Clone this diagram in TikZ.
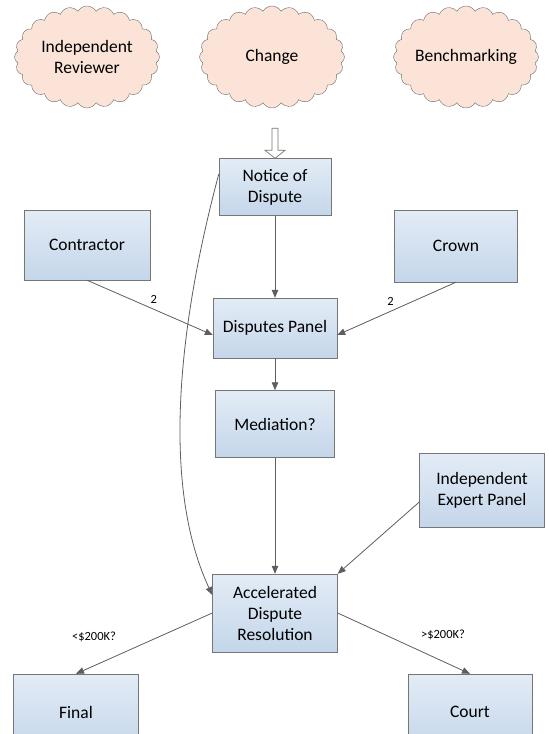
\documentclass[tikz,border=0pt]{standalone}
\usepackage{fontspec}
\setmainfont{Carlito}
\usetikzlibrary{shapes.symbols,arrows.meta}

\definecolor{boxtop}{HTML}{E3ECF6}
\definecolor{boxbottom}{HTML}{C4D6EA}
\definecolor{boxline}{HTML}{767676}
\definecolor{cloudfill}{HTML}{FBE4D7}
\definecolor{cloudline}{HTML}{6A6A6A}
\definecolor{linkgray}{HTML}{5E5E5E}

\tikzset{
  box node/.style={draw=boxline, top color=boxtop, bottom color=boxbottom,
    align=center, inner sep=2pt, font=\fontsize{17.5}{21}\selectfont},
  cloud node/.style={cloud, cloud puffs=24, cloud puff arc=120, cloud ignores aspect,
    minimum width=145pt, minimum height=102pt, inner sep=0pt, draw=cloudline,
    fill=cloudfill, align=center, font=\fontsize{17.5}{21}\selectfont},
  link/.style={draw=linkgray, line width=0.8pt, -{Triangle[length=8pt,width=6.5pt]}},
  tag/.style={font=\fontsize{12.5}{15}\selectfont, inner sep=1pt},
}

\begin{document}
\begin{tikzpicture}[x=1pt, y=1pt]
\useasboundingbox (0,0) rectangle (549,-734);
\clip (0,0) rectangle (549,-734);

% the three clouds
\node[cloud node] (reviewer) at (87,-57)  {Independent\\Reviewer};
\node[cloud node] (change)   at (272,-57) {Change};
\node[cloud node] (bench)    at (466,-57) {Benchmarking};

% boxes
\node[box node, minimum width=112pt, minimum height=57pt] (notice)     at (275,-187) {Notice of\\Dispute};
\node[box node, minimum width=126pt, minimum height=70pt] (contractor) at (87,-245)  {Contractor};
\node[box node, minimum width=123pt, minimum height=72pt] (crown)      at (456,-246) {Crown};
\node[box node, minimum width=124pt, minimum height=60pt] (panel)      at (275,-328) {Disputes Panel};
\node[box node, minimum width=119pt, minimum height=67pt] (mediation)  at (275,-424) {Mediation?};
\node[box node, minimum width=125pt, minimum height=74pt] (expert)     at (482,-490) {Independent\\Expert Panel};
\node[box node, minimum width=125pt, minimum height=78pt] (adr)        at (275,-613) {Accelerated\\Dispute\\Resolution};
\node[box node, minimum width=125pt, minimum height=76pt] (final)      at (76,-712)  {Final};
\node[box node, minimum width=124pt, minimum height=76pt] (court)      at (470,-712) {Court};

% hollow arrow into the notice
\draw[boxline, fill=white, line width=0.7pt] (notice.north) -- ++(10,8) -- ++(-7,0) -- ++(0,22)
  -- ++(-6,0) -- ++(0,-22) -- ++(-7,0) -- cycle;

\path[every edge/.append style={link}]
(notice) edge (panel)
(panel) edge (mediation)
(mediation) edge (adr)
(contractor.south) edge node[tag, pos=0.53, above=4pt] {2} ([yshift=-7pt]panel.west)
(crown.south) edge node[tag, pos=0.55, above=4pt] {2} ([yshift=-7pt]panel.east)
([yshift=-12pt]expert.west) edge (adr.north east)
([yshift=13pt]notice.west) edge[out=255, in=115, looseness=0.8] ([yshift=18pt]adr.west)
(adr.west) edge (final.north)
(adr.east) edge (court.north);

\node[tag] (lowtag)  at (94,-637)  {<\$200K?};
\node[tag] (hightag) at (443,-635) {>\$200K?};
\end{tikzpicture}
\end{document}
